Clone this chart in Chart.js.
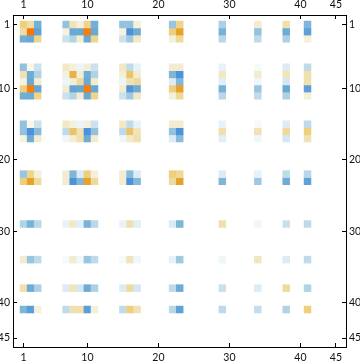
<!DOCTYPE html>
<html>
<head>
<meta charset="utf-8">
<style>
  html, body { margin: 0; padding: 0; background: #fff; overflow: hidden; }
  #chart { display: block; }
</style>
<script src="https://cdn.jsdelivr.net/npm/chart.js@4"></script>
</head>
<body>
<canvas id="chart" width="360" height="363"></canvas>
<script>
// matrix positions that hold non-zero entries
const rowLabels = [1, 2, 3, 7, 8, 9, 10, 11, 15, 16, 17, 22, 23, 29, 34, 38, 41];
const colLabels = [1, 2, 3, 7, 8, 9, 10, 11, 15, 16, 17, 22, 23, 29, 34, 38, 41];
const tickLabels = [1, 10, 20, 30, 40, 45];

// one line per row, one entry per colLabels item (negative = blue, positive = orange)
const cellValues = [
  [.55, .42, -.65, -.5, .35, .2, .5, -.65, -.5, -.5, .2, -.48, .5, -.4, .25, .4, -.6],
  [.42, 1, -.76, .18, -.7, -.7, .95, -.7, .18, -.88, -.68, .55, .75, -.63, -.5, -.68, -.78],
  [-.66, -.7, .5, -.27, -.38, .25, -.7, .5, -.27, -.45, .3, .2, .47, -.35, -.32, -.4, .2],
  [-.5, .12, -.27, .3, .2, -.13, .22, -.27, .3, -.32, -.15, .25, .25, -.15, -.06, -.2, -.32],
  [.37, -.68, -.38, .2, .68, .22, -.66, -.38, .22, .6, .25, -.6, -.88, .3, .25, .35, .4],
  [.18, -.7, .25, -.13, .22, .45, -.7, .25, -.13, .37, .45, -.2, -.58, -.18, -.1, -.23, .4],
  [.55, .95, -.72, .25, -.74, -.72, .95, -.72, .25, -.86, -.68, .55, .75, -.63, -.48, -.7, -.78],
  [-.66, -.68, .5, -.27, -.38, .25, -.7, .5, -.27, -.45, .3, .2, .47, -.35, -.32, -.4, .2],
  [-.5, .12, -.27, .3, .2, -.13, .2, -.27, .3, -.32, -.15, .25, .25, -.15, -.06, -.2, -.32],
  [-.5, -.88, -.55, -.32, .6, .37, -.88, -.5, -.32, .6, .35, -.5, -.88, .4, .37, .45, .55],
  [.18, -.68, .25, -.1, .22, .4, -.68, .25, -.1, .27, .4, -.2, -.55, -.18, -.1, -.23, .37],
  [-.48, .5, .2, .25, -.6, -.2, .55, .2, .25, -.55, -.2, .55, .47, -.2, -.16, -.32, -.35],
  [.55, .75, .45, .25, -.88, -.58, .75, .45, .25, -.88, -.58, .45, .75, -.6, -.45, -.68, -.76],
  [-.38, -.63, -.35, -.15, .3, -.18, -.63, -.35, -.15, .4, -.18, -.2, -.6, .4, -.1, -.28, -.33],
  [.25, -.48, -.32, -.06, .25, -.09, -.48, -.32, -.06, .35, -.1, -.16, -.45, -.1, .32, -.2, -.32],
  [.4, -.68, -.4, -.2, .35, -.23, -.68, -.4, -.2, .45, -.23, -.32, -.68, -.28, -.2, .45, -.38],
  [-.6, -.8, .2, -.32, .4, .4, -.8, .2, -.32, .55, .37, -.35, -.76, -.33, -.3, -.38, .55],
];

const posStops = [[0, 255, 255, 255], [.2, 245, 240, 220], [.4, 240, 224, 174], [.55, 237, 207, 126], [.75, 229, 163, 42], [1, 255, 115, 0]];
const negStops = [[0, 255, 255, 255], [.15, 232, 243, 249], [.3, 196, 222, 235], [.5, 147, 194, 222], [.7, 106, 169, 210], [.9, 74, 144, 220], [1, 74, 144, 220]];

function cellColor(v) {
  const stops = v < 0 ? negStops : posStops;
  const a = Math.abs(v);
  for (let i = 1; i < stops.length; i++) {
    if (a <= stops[i][0]) {
      const s0 = stops[i - 1], s1 = stops[i];
      const t = (a - s0[0]) / (s1[0] - s0[0]);
      const ch = (k) => Math.round(s0[k] + (s1[k] - s0[k]) * t);
      return `rgb(${ch(1)},${ch(2)},${ch(3)})`;
    }
  }
  return "rgb(255,115,0)";
}

const datasets = rowLabels.map((row, r) => ({
  label: `row ${row}`,
  data: colLabels.map((col) => ({ x: col, y: [row - 0.5, row + 0.5] })),
  backgroundColor: cellValues[r].map(cellColor),
  borderWidth: 0,
  barPercentage: 1,
  categoryPercentage: 1,
  grouped: false,
  inflateAmount: 0.2,
}));

const tickFont = { family: "Lato, sans-serif", size: 10.5 };

function axis(position, min, max, reverse, size) {
  const horizontal = position === "top" || position === "bottom";
  return {
    type: "linear",
    position,
    min,
    max,
    reverse,
    offset: false,
    afterBuildTicks: (s) => { s.ticks = tickLabels.map((v) => ({ value: v })); },
    afterFit: (s) => { if (horizontal) s.height = size; else s.width = size; },
    grid: { drawOnChartArea: false, offset: false, tickLength: -4, tickColor: "#000", tickWidth: 1 },
    border: { display: true, color: "#000", width: 1 },
    ticks: {
      color: "#111",
      font: tickFont,
      padding: horizontal ? 8 : 7,
      autoSkip: false,
      maxRotation: 0,
      callback: (v) => String(v),
    },
  };
}

new Chart(document.getElementById("chart"), {
  type: "bar",
  data: { datasets },
  options: {
    responsive: false,
    animation: false,
    layout: { padding: 0 },
    plugins: { legend: { display: false }, tooltip: { enabled: false } },
    scales: {
      x: axis("bottom", -0.479, 46.42, false, 16),
      xTop: axis("top", -0.479, 46.42, false, 15),
      y: axis("left", -0.333, 46.26, true, 13),
      yRight: axis("right", -0.333, 46.26, true, 14),
    },
  },
});
</script>
</body>
</html>
